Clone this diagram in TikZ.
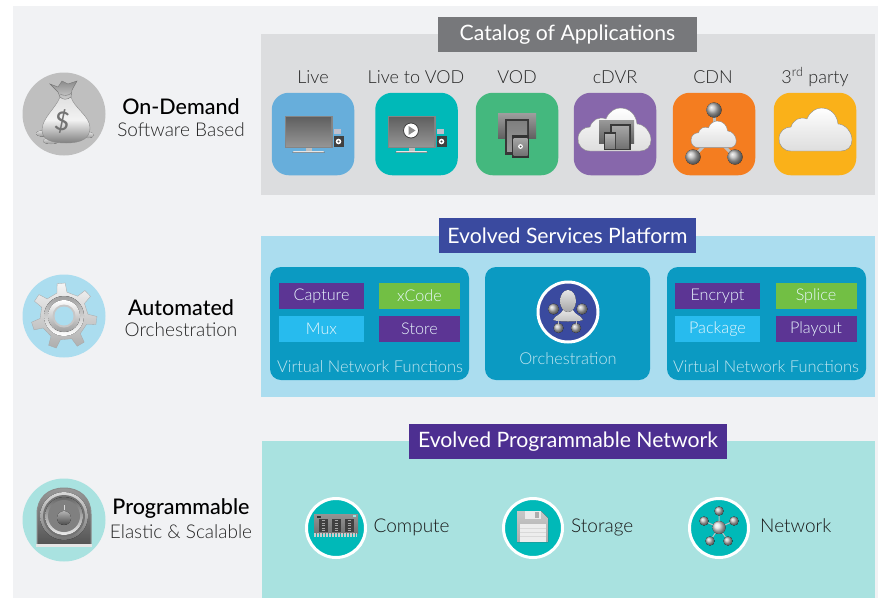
\documentclass[tikz,border=0pt]{standalone}
\usepackage{fontspec}
\setmainfont{Lato}[UprightFont=* Light,BoldFont=* Medium]
\newfontfamily\titlef{Lato}
\newcommand{\pxf}[1]{\fontsize{#1}{#1}\selectfont}
\definecolor{pagebg}{HTML}{F1F2F4}
\definecolor{graypanel}{HTML}{DCDDDF}
\definecolor{graytitle}{HTML}{77787B}
\definecolor{bluepanel}{HTML}{ABDDEF}
\definecolor{bluetitle}{HTML}{3A4A9F}
\definecolor{tealpanel}{HTML}{A9E2E0}
\definecolor{purpletitle}{HTML}{4D2F91}
\definecolor{vnfbox}{HTML}{0B9AC2}
\definecolor{fnpurple}{HTML}{5C3594}
\definecolor{fngreen}{HTML}{72BF44}
\definecolor{fnblue}{HTML}{27BBEE}
\definecolor{teal}{HTML}{00B9B8}
\definecolor{tlive}{HTML}{67AEDB}
\definecolor{tvod}{HTML}{44B87E}
\definecolor{tdvr}{HTML}{8767AB}
\definecolor{tcdn}{HTML}{F47D20}
\definecolor{tthird}{HTML}{FAB119}
\tikzset{
  x=1pt,y=-1pt,
  panel/.style={draw=none,inner sep=0pt,outer sep=0pt},
  titlebar/.style={panel,text=white,font=\titlef\pxf{21.2}},
  tile/.style={panel,rounded corners=17pt,minimum width=82.5pt,minimum height=82.5pt},
  tilelabel/.style={text=black!85,font=\pxf{18},inner sep=0pt},
  vnf/.style={panel,fill=vnfbox,rounded corners=11pt,minimum height=113pt},
  fnbox/.style={panel,minimum height=26pt,text=white!90!fnblue,font=\pxf{16.2}},
  vnflabel/.style={text=white!75!vnfbox,font=\pxf{16.4},inner sep=0pt},
  headbold/.style={text=black,font=\bfseries\pxf{21.5},inner sep=0pt},
  headsub/.style={text=black!85,font=\pxf{19},inner sep=0pt},
  badge/.style={panel,circle,minimum size=83pt},
  disc/.style={circle,fill=teal,draw=white,line width=3pt,inner sep=0pt,minimum size=59pt},
  netlabel/.style={text=black!90,font=\pxf{19},inner sep=0pt},
  coin/.style={top color=black!12,bottom color=black!40},
  sphere/.style={ball color=black!28,draw=none},
  pics/cloudicon/.style={code={
    \path[draw=black!45,line width=.4pt,top color=white,bottom color=black!13,middle color=white!93!black]
      (12,43) .. controls (4,43) and (0,37) .. (0,31)
      .. controls (0,23) and (6,19) .. (12,19)
      .. controls (14,12) and (21,8) .. (28,11)
      .. controls (31,3) and (38,0) .. (42,0)
      .. controls (52,0) and (58,7) .. (59,16)
      .. controls (66,16) and (73,24) .. (73,32)
      .. controls (73,39) and (68,43) .. (62,43) -- cycle;
  }},
  pics/monitoricon/.style={code={
    \fill[black!48] (0,0) rectangle (48,32);
    \fill[top color=black!62,bottom color=black!42] (1.5,1.5) rectangle (46.5,30);
    \fill[black!25] (21,32) rectangle (27,35);
    \fill[top color=black!10,bottom color=black!30] (9,35) -- (39,35) -- (40,36.5) -- (8,36.5) -- cycle;
    \fill[blue!20!black!25] (49,13) rectangle (56,18);
    \fill[black!75] (49,20) rectangle (59,31);
    \fill[white] (54,25.5) circle (2.8);
    \fill[black!70] (54,25.5) circle (1.2);
  }},
  pics/tabletsicon/.style={code={
    \fill[top color=black!38,bottom color=black!62] (0,0) rectangle (38,25);
    \fill[black!78] (7,6) rectangle (31,42);
    \fill[top color=black!50,bottom color=black!40] (9,8) rectangle (29,38);
    \fill[black!80] (14,22) rectangle (31,45);
    \fill[top color=black!35,bottom color=black!55] (15.5,25) rectangle (29.5,42);
    \fill[white] (22.5,33.5) circle (2.4);
    \fill[black!70] (22.5,33.5) circle (1);
  }}
}
\begin{document}
\begin{tikzpicture}
\path[use as bounding box,fill=white] (0,0) rectangle (878,598);
\fill[pagebg] (13,6) rectangle (878,598);

% ---------- left column
\node[badge,fill=black!25] (bagbadge) at (64,114) {};
\node[badge,fill=bluepanel] (gearbadge) at (64,316) {};
\node[badge,fill=tealpanel] (dialbadge) at (64,520) {};
\node[headbold] (h1) at (181,107) {On-Demand};
\node[headsub] (s1) at (181,130) {Software Based};
\node[headbold] (h2) at (181,308) {Automated};
\node[headsub] (s2) at (181,330) {Orchestration};
\node[headbold] (h3) at (181,509) {Programmable};
\node[headsub] (s3) at (181,532) {Elastic \& Scalable};

% money bag
\fill[coin] (43,133.5) ellipse (7 and 3);
\fill[coin] (88,135) ellipse (6 and 3);
\fill[coin] (51,141) ellipse (8 and 3);
\path[draw=black!45,line width=.4pt,top color=black!12,bottom color=black!50,middle color=black!5]
  (60,97) .. controls (56,108) and (42,118) .. (42,130)
  .. controls (42,140) and (52,143) .. (66,143)
  .. controls (82,143) and (90,138) .. (90,128)
  .. controls (90,116) and (74,108) .. (71,97) -- cycle;
\path[draw=black!55,line width=.4pt,top color=black!45,bottom color=black!18]
  (50,84) -- (58,87) -- (62,81) -- (68,84) -- (77,81) -- (72,90) -- (71,97)
  .. controls (67,100) and (63,100) .. (60,97) -- (58,92) -- cycle;
\draw[black!50,line width=.4pt] (60,94) .. controls (64,96) and (68,96) .. (71.5,93);
\node[inner sep=0pt,rotate=-8,text=black!55,font=\bfseries\pxf{26}] (dollar) at (62,121) {\$};

% gear
\begin{scope}[shift={(64,316)}]
\path[draw=black!35,line width=.3pt,top color=black!4,bottom color=black!32]
  (-107:24)
  \foreach \i [evaluate=\i as \a using {-95+\i*51.43}] in {0,...,6}{
    -- (\a-12:24) -- (\a-7:33) -- (\a+7:33) -- (\a+12:24)
  } -- cycle;
\fill[top color=black!38,bottom color=white] (0,0) circle (20);
\fill[top color=white,bottom color=black!38] (0,0) circle (16);
\fill[black!22] (0,0) circle (11.5);
\fill[bluepanel] (0,0) circle (9.5);
\end{scope}

% dial
\path[draw=black!45,line width=1pt,top color=black!40,bottom color=black!68]
  (37,546) -- (37,514) .. controls (37,498) and (48,488) .. (64,488)
  .. controls (80,488) and (91,498) .. (91,514) -- (91,546) -- cycle;
\fill[black!10] (36,544) rectangle (92,547);
\fill[top color=black!15,bottom color=black!55] (64,516) circle (24);
\fill[black!55] (64,516) circle (21);
\fill[top color=black!60,bottom color=black!8] (64,516) circle (19);
\fill[black!50] (64,516) circle (16);
\fill[top color=black!30,bottom color=black!70] (64,518) circle (7);
\fill[black!15] (63.5,505) rectangle (64.5,510);

% ---------- catalog of applications
\fill[graypanel] (261,34) rectangle (875,195);
\node[titlebar,fill=graytitle,minimum width=259pt,minimum height=35pt] (cat) at (567.5,34.5) {Catalog of Applications};
\foreach \n/\tx/\ty/\c/\lab/\lx in {
  live/313/134/tlive/Live/313,
  ltv/416.5/134/teal/Live to VOD/416,
  vod/517/134/tvod/VOD/517,
  dvr/615/134/tdvr/cDVR/615,
  cdn/714/134/tcdn/CDN/713,
  third/815/134/tthird/{3\textsuperscript{rd} party}/815}{
  \node[tile,fill=\c] (\n) at (\tx,\ty) {};
  \node[tilelabel,anchor=base] (\n lab) at (\lx,83) {\lab};
}
\pic at (284.5,116) {monitoricon};
\pic at (387.5,116) {monitoricon};
\fill[white,draw=black!75,line width=.8pt] (411,130.5) circle (7.5);
\fill[black!45] (408.5,126) -- (415.5,130.5) -- (408.5,135) -- cycle;
\pic at (498,113) {tabletsicon};
% cdvr
\pic at (578,108) {cloudicon};
\fill[top color=black!40,bottom color=black!62] (599,120) rectangle (634,143);
\fill[black!78] (610,124) rectangle (631,150);
\fill[top color=black!35,bottom color=black!55] (612,126) rectangle (629,148);
\fill[black!78] (604,132) rectangle (616,150);
\fill[top color=black!30,bottom color=black!50] (605,134) rectangle (615,148);
% cdn
\draw[black!25,line width=3pt] (714,112) -- (714,135);
\draw[black!25,line width=3pt] (693,157) -- (712,138);
\draw[black!25,line width=3pt] (735,157) -- (716,138);
\fill[sphere] (714,110) circle (7.5);
\fill[sphere] (693,157) circle (7.5);
\fill[sphere] (735,157) circle (7.5);
\pic[scale=.62] at (691,121) {cloudicon};
\pic at (779,108) {cloudicon};

% ---------- evolved services platform
\fill[bluepanel] (261,236) rectangle (875,397);
\node[titlebar,fill=bluetitle,minimum width=257pt,minimum height=35pt] (esp) at (567.5,235.5) {Evolved Services Platform};
\node[vnf,minimum width=199pt] (vnfa) at (369.5,323.5) {};
\node[vnf,minimum width=165pt] (orch) at (567.5,323.5) {};
\node[vnf,minimum width=199pt] (vnfb) at (766.5,323.5) {};
\node[fnbox,fill=fnpurple,minimum width=85pt] (capture) at (321.5,296) {Capture};
\node[fnbox,fill=fngreen,minimum width=81pt] (xcode) at (419.5,296) {xCode};
\node[fnbox,fill=fnblue,minimum width=85pt] (mux) at (321.5,329) {Mux};
\node[fnbox,fill=fnpurple,minimum width=81pt] (store) at (419.5,329) {Store};
\node[fnbox,fill=fnpurple,minimum width=85pt] (encrypt) at (717.5,296) {Encrypt};
\node[fnbox,fill=fngreen,minimum width=81pt] (splice) at (816,296) {Splice};
\node[fnbox,fill=fnblue,minimum width=85pt] (package) at (717.5,329) {Package};
\node[fnbox,fill=fnpurple,minimum width=81pt] (playout) at (816,329) {Playout};
\node[vnflabel] (vl1) at (370,366.5) {Virtual Network Functions};
\node[vnflabel] (vl2) at (766,366.5) {Virtual Network Functions};
\node[vnflabel] (ol) at (568,358.5) {Orchestration};
\node[disc,fill=bluetitle,minimum size=60pt] (orchdisc) at (568,312) {};
\fill[sphere] (553.5,309) circle (5.5);
\fill[sphere] (582,309) circle (5.5);
\fill[sphere] (558.5,328) circle (5);
\fill[sphere] (576,328) circle (5);
\draw[black!25,line width=1pt] (558.5,320) -- (558.5,325) (576,320) -- (576,325);
\fill[top color=white!90!black,bottom color=black!25] (553,320) .. controls (555,315) and (561,315) .. (563,310) -- (573,310) .. controls (575,315) and (581,315) .. (583,320) .. controls (578,322) and (558,322) .. (553,320) -- cycle;
\fill[top color=black!10,bottom color=black!35] (568,301) ellipse (8 and 11);

% ---------- evolved programmable network
\fill[tealpanel] (262,441) rectangle (875,598);
\node[titlebar,fill=purpletitle,minimum width=318pt,minimum height=35pt] (epn) at (568,441.5) {Evolved Programmable Network};
\node[disc] (compute) at (336,528) {};
\node[disc] (storage) at (533,528) {};
\node[disc] (network) at (719,528) {};
\node[netlabel,anchor=base west] (cl) at (373.5,532) {Compute};
\node[netlabel,anchor=base west] (sl) at (571,532) {Storage};
\node[netlabel,anchor=base west] (nl) at (760,532) {Network};
% memory
\fill[top color=black!42,bottom color=black!55] (314,514) rectangle (358,533);
\foreach \px in {314,315.5,...,357}{\draw[black!20,line width=.7pt] (\px,533) -- (\px,537);}
\foreach \mx in {323,336,349}{
  \fill[black!75] (\mx-4.5,519) rectangle (\mx+4.5,532);
  \foreach \my in {520.5,523,...,531}{\draw[black!35,line width=.5pt] (\mx-1.5,\my) -- (\mx+1.5,\my);}
}
\fill[black!80] (317,516) rectangle (321,518);
\fill[teal!40] (353,515) rectangle (356,517);
% floppy
\fill[top color=black!22,bottom color=black!32] (517,511) -- (541,511) -- (548,518) -- (548,542) -- (517,542) -- cycle;
\fill[black!8] (525,511) rectangle (541,519);
\fill[black!32] (535,512) rectangle (539,518);
\fill[white!93!black] (520,524) rectangle (546,542);
\foreach \fy in {528,532,536}{\draw[black!15,line width=.4pt] (520,\fy) -- (546,\fy);}
% network
\draw[black!25,line width=1pt] (719,527.5) -- (719,511) (719,527.5) -- (704,521) (719,527.5) -- (734,521) (719,527.5) -- (710,541) (719,527.5) -- (728,541);
\fill[sphere] (719,511) circle (4.6);
\fill[sphere] (704,521) circle (4.6);
\fill[sphere] (734,521) circle (4.6);
\fill[sphere] (710,541) circle (4.6);
\fill[sphere] (728,541) circle (4.6);
\fill[ball color=black!12] (719,527.5) circle (6.5);
\end{tikzpicture}
\end{document}
